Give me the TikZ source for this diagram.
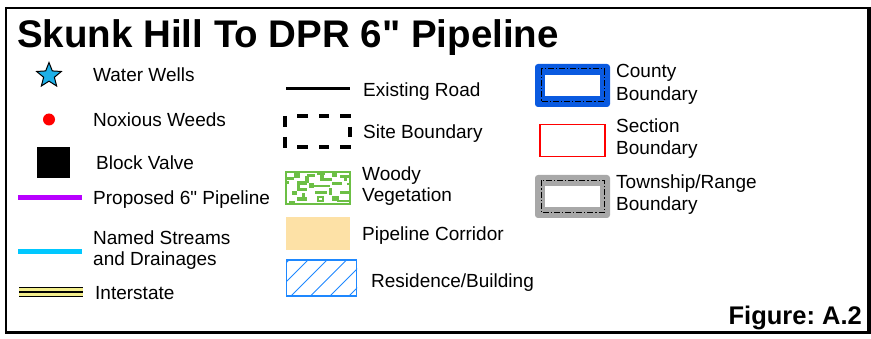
\documentclass[tikz,border=0pt]{standalone}
\usepackage{fontspec}
\setmainfont{Liberation Sans}[Ligatures=TeXOff]
\definecolor{purp}{HTML}{B800FF}
\definecolor{streamc}{HTML}{00C8FF}
\definecolor{starc}{HTML}{1EB0E8}
\definecolor{hwy}{HTML}{F3EE8C}
\definecolor{woody}{HTML}{6CBF45}
\definecolor{corr}{HTML}{FDE1A6}
\definecolor{resb}{HTML}{1E88FF}
\definecolor{cntyb}{HTML}{0A5AE0}
\definecolor{twpg}{HTML}{A8A8A8}
\usetikzlibrary{shapes.geometric}
\frenchspacing
\begin{document}
\begin{tikzpicture}[x=1pt,y=-1pt,
  lbl/.style={anchor=base west,inner sep=0pt,font=\fontsize{19}{22}\selectfont},
  swatchline/.style={line width=5pt},
  bnd/.style={line width=1pt,dash pattern=on 6pt off 2pt on 1.2pt off 2pt}]
\useasboundingbox (0,0) rectangle (871,339);
\fill[white] (0,0) rectangle (871,339);
% frame
\draw[line width=2pt] (6,8) -- (869,8);
\draw[line width=2pt] (6,7) -- (6,333);
\draw[line width=3pt] (5,332.5) -- (871,332.5);
\draw[line width=3.5pt] (869.2,7) -- (869.2,334);
% title
\node[anchor=base west,inner sep=0pt,font=\fontsize{38.5}{40}\selectfont\bfseries] (title) at (17,48) {Skunk Hill To DPR 6" Pipeline};
\node[anchor=base east,inner sep=0pt,font=\fontsize{25.5}{28}\selectfont\bfseries] (fig) at (862,325) {Figure: A.2};
% column 1
\node[star,star points=5,star point ratio=2.3,minimum size=26pt,inner sep=0pt,fill=starc,draw=black,line width=1pt] (well) at (49,75.5) {};
\node[lbl] (twell) at (93,82) {Water Wells};
\node[circle,fill=red,minimum size=12pt,inner sep=0pt] (weed) at (49,119.5) {};
\node[lbl] (tweed) at (93,127) {Noxious Weeds};
\node[fill=black,minimum width=33pt,minimum height=31pt,inner sep=0pt] (valve) at (53.5,162.5) {};
\node[lbl] (tvalve) at (96,170) {Block Valve};
\coordinate (p1) at (18,198); \coordinate (p2) at (82,198);
\draw[swatchline,purp] (p1) -- (p2);
\node[lbl] (tpipe) at (93,205) {Proposed 6" Pipeline};
\coordinate (s1) at (18,251.5); \coordinate (s2) at (82,251.5);
\draw[swatchline,streamc] (s1) -- (s2);
\node[lbl] (tstr1) at (93,245) {Named Streams};
\node[lbl] (tstr2) at (93,266) {and Drainages};
\coordinate (i1) at (19,292); \coordinate (i2) at (83,292);
\draw[line width=10pt,black] (i1) -- (i2);
\draw[line width=8pt,hwy] (i1) -- (i2);
\draw[line width=1.3pt,black] (i1) -- (i2);
\node[lbl] (tint) at (95,299.5) {Interstate};
% column 2
\coordinate (r1) at (286,89); \coordinate (r2) at (350,89);
\draw[line width=3pt] (r1) -- (r2);
\node[lbl] (troad) at (363,96.5) {Existing Road};
\begin{scope}[line width=4pt]
\draw (297,116) -- (308,116); \draw (319,116) -- (329,116); \draw (340,116) -- (351,116);
\draw (297,147) -- (308,147); \draw (319,147) -- (329,147); \draw (340,147) -- (351,147);
\draw (285,116) -- (285,127); \draw (285,137) -- (285,148);
\draw (350,127) -- (350,137);
\end{scope}
\node[lbl] (tsite) at (363,139) {Site Boundary};
% woody vegetation
\draw[woody,line width=2pt] (286,172) rectangle (350,204);
\foreach \a/\b/\c/\d in {35/12/55/30,15/28/35/35,75/18/100/28,70/25/80/45,105/12/130/22,115/22/125/40,125/30/150/38,150/15/165/28,175/20/205/30,185/30/195/40,45/40/75/50,45/50/55/70,55/60/75/68,80/45/95/60,90/50/145/58,150/42/180/50,100/70/135/78,140/60/150/80,175/68/200/78,30/68/45/80,60/75/70/90,45/88/75/98,150/85/170/100,165/95/205/102,20/98/40/104,10/40/22/48,195/45/208/52}
  \fill[woody] (282+\a/3,168+\b/3) rectangle (282+\c/3,168+\d/3);
\draw[woody,line width=2pt] (282+108/3,168+86/3) rectangle (282+124/3,168+99/3);
\node[lbl] (twood1) at (362,181) {Woody};
\node[lbl] (twood2) at (362,202) {Vegetation};
% pipeline corridor
\node[fill=corr,minimum width=64pt,minimum height=33pt,inner sep=0pt] (corridor) at (318,233.5) {};
\node[lbl] (tcorr) at (362,240.5) {Pipeline Corridor};
% residence
\begin{scope}
\clip (286,260) rectangle (357,296);
\foreach \x in {252,271,290,309.5,329,348}
  \draw[resb,line width=0.9pt] (\x,297) -- (\x+40,257);
\end{scope}
\draw[resb,line width=1.2pt] (286.5,260) rectangle (356.5,296);
\node[lbl] (tres) at (371,288) {Residence/Building};
% column 3
\fill[cntyb,rounded corners=3pt] (535,64) rectangle (610,107);
\fill[white] (545,75) rectangle (600,96);
\draw[bnd] (541,69) rectangle (604,102);
\node[lbl] (tcnty1) at (616,78) {County};
\node[lbl] (tcnty2) at (616,100.5) {Boundary};
\draw[red,line width=1.6pt] (540,124.5) rectangle (605,156.5);
\node[lbl] (tsec1) at (616,133) {Section};
\node[lbl] (tsec2) at (616,155) {Boundary};
\fill[twpg,rounded corners=3pt] (535,175) rectangle (610,218);
\fill[white] (545,186) rectangle (600,207);
\draw[bnd] (541,180.5) rectangle (604,212.5);
\node[lbl] (ttwp1) at (616,189) {Township/Range};
\node[lbl] (ttwp2) at (616,210.5) {Boundary};
\end{tikzpicture}
\end{document}
